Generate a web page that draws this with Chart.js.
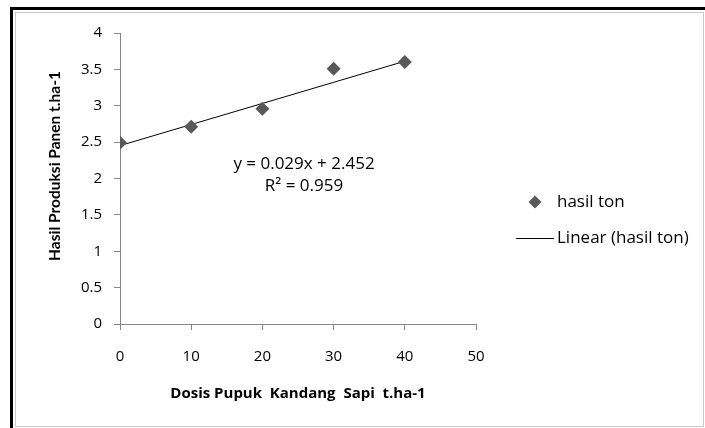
<!DOCTYPE html>
<html>
<head>
<meta charset="utf-8">
<script src="https://cdn.jsdelivr.net/npm/chart.js@4.4.0/dist/chart.umd.min.js"></script>
<style>
  body { margin: 0; background: #fff; }
  #wrap { position: relative; width: 705px; height: 428px; }
  #frame { position: absolute; left: 10px; top: 7px; width: 695px; height: 421px;
           border-left: 3px solid #000; border-top: 3px solid #000; box-sizing: border-box; pointer-events: none; }
  #inner { position: absolute; left: 15px; top: 12px; width: 689px; height: 415px;
           border: 1px solid #c8c8c8; box-sizing: border-box; pointer-events: none; }
</style>
</head>
<body>
<div id="wrap">
  <canvas id="chart" width="705" height="428"></canvas>
  <div id="frame"></div>
  <div id="inner"></div>
</div>
<script>
// data
const dosis = [0, 10, 20, 30, 40];
const hasilTon = [2.49, 2.71, 2.96, 3.51, 3.60];
// trendline as given on the chart
const slope = 0.029;
const intercept = 2.452;
const trendX = [0, 40];
const eqText = ['y = 0.029x + 2.452', 'R\u00b2 = 0.959'];
const seriesNames = ['hasil ton', 'Linear (hasil ton)'];
const xTitle = 'Dosis Pupuk  Kandang  Sapi  t.ha-1';
const yTitle = 'Hasil Produksi Panen t.ha-1';

const FONT = '"Open Sans", Lato, sans-serif';
const axisGray = '#868686';
const markerGray = '#595959';

const scatterPts = dosis.map((x, i) => ({ x: x, y: hasilTon[i] }));
const trendPts = trendX.map(x => ({ x: x, y: slope * x + intercept }));

const extras = {
  id: 'extras',
  afterDraw(chart) {
    const ctx = chart.ctx;
    ctx.save();
    ctx.fillStyle = '#000';

    // y axis title
    ctx.save();
    ctx.translate(55, 166);
    ctx.rotate(-Math.PI / 2);
    ctx.font = 'bold 15.5px Lato, sans-serif';
    ctx.textAlign = 'center';
    ctx.textBaseline = 'middle';
    ctx.fillText(yTitle, 0, 0);
    ctx.restore();

    // equation label
    ctx.font = '17px ' + FONT;
    ctx.textAlign = 'center';
    ctx.textBaseline = 'middle';
    ctx.fillText(eqText[0], 304, 164);
    ctx.fillText(eqText[1], 304, 186);

    // legend
    ctx.textAlign = 'left';
    ctx.fillStyle = markerGray;
    ctx.beginPath();
    ctx.moveTo(535 - 6.5, 202);
    ctx.lineTo(535, 202 - 6.5);
    ctx.lineTo(535 + 6.5, 202);
    ctx.lineTo(535, 202 + 6.5);
    ctx.closePath();
    ctx.fill();
    ctx.strokeStyle = '#000';
    ctx.lineWidth = 1;
    ctx.beginPath();
    ctx.moveTo(516, 238.5);
    ctx.lineTo(554, 238.5);
    ctx.stroke();
    ctx.fillStyle = '#000';
    ctx.fillText(seriesNames[0], 557, 202);
    ctx.fillText(seriesNames[1], 557, 238);
    ctx.restore();
  }
};

new Chart(document.getElementById('chart').getContext('2d'), {
  type: 'scatter',
  data: {
    datasets: [
      {
        label: seriesNames[0],
        data: scatterPts,
        pointStyle: 'rectRot',
        pointRadius: 7,
        pointHoverRadius: 7,
        backgroundColor: markerGray,
        borderColor: markerGray,
        borderWidth: 0,
        order: 1
      },
      {
        type: 'line',
        label: seriesNames[1],
        data: trendPts,
        borderColor: '#000',
        borderWidth: 1,
        pointRadius: 0,
        fill: false,
        order: 2
      }
    ]
  },
  options: {
    responsive: false,
    animation: false,
    layout: { padding: { left: 0, top: 33, right: 229, bottom: 0 } },
    plugins: {
      legend: { display: false },
      tooltip: { enabled: false }
    },
    scales: {
      x: {
        type: 'linear',
        min: 0,
        max: 50,
        afterFit: function (s) { s.height = 104; },
        ticks: { stepSize: 10, color: '#000', padding: 18, font: { family: FONT, size: 15 },
                 callback: v => String(v) },
        grid: { drawOnChartArea: false, drawTicks: true, tickLength: 6, color: axisGray },
        border: { display: true, color: axisGray },
        title: { display: true, text: xTitle, color: '#000', padding: { top: 0, bottom: 25 },
                 font: { family: FONT, size: 15, weight: 'bold' } }
      },
      y: {
        type: 'linear',
        min: 0,
        max: 4,
        afterFit: function (s) { s.width = 120; },
        ticks: { stepSize: 0.5, color: '#000', padding: 12, font: { family: FONT, size: 15 },
                 callback: v => String(v) },
        grid: { drawOnChartArea: false, drawTicks: true, tickLength: 6, color: axisGray },
        border: { display: true, color: axisGray }
      }
    }
  },
  plugins: [extras]
});
</script>
</body>
</html>
